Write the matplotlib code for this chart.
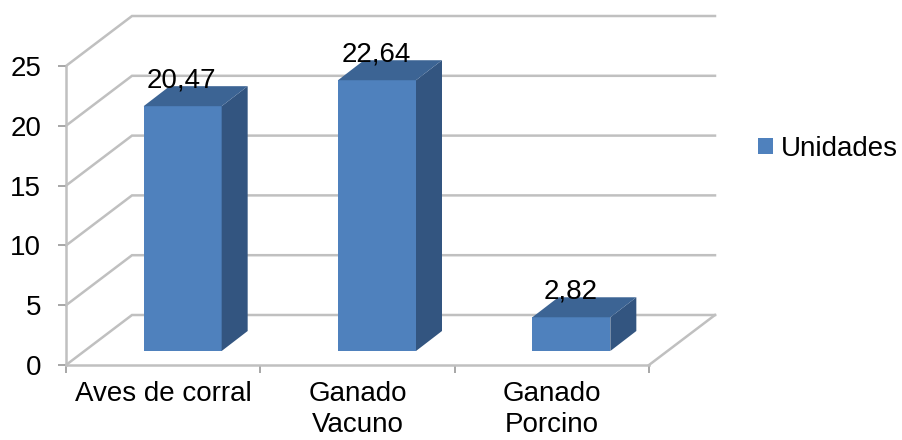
import matplotlib
matplotlib.use("Agg")
import matplotlib.pyplot as plt
from matplotlib.patches import Polygon

categorias = ["Aves de corral", "Ganado\nVacuno", "Ganado\nPorcino"]
valores = [20.47, 22.64, 2.82]
etiquetas = ["20,47", "22,64", "2,82"]
y_ticks = [0, 5, 10, 15, 20, 25]
serie = "Unidades"

GRIS = "#c0c0c0"
FRENTE = "#4f81bd"
LADO = "#335580"
TECHO = "#3c6494"
FS = 20

plt.rcParams["font.family"] = ["Liberation Sans", "DejaVu Sans"]

W, H = 902, 440
fig = plt.figure(figsize=(W / 100, H / 100), dpi=100)
ax = fig.add_axes([66 / W, (H - 365) / H, 583 / W, 299 / H])
ax.set_xlim(0, 3)
ax.set_ylim(0, 25)
ax.patch.set_alpha(0)

# pixeles -> unidades de datos
ux = 3 / 583
uy = 25 / 299
prof_x = 66 * ux
prof_y = 50 * uy

# paredes y suelo
for v in y_ticks:
    ax.plot([0, prof_x, 3 + prof_x], [v, v + prof_y, v + prof_y], color=GRIS, lw=1.8,
            clip_on=False, zorder=1, solid_joinstyle="miter")
ax.plot([3, 3 + prof_x], [0, prof_y], color=GRIS, lw=1.8, clip_on=False, zorder=1)

# barras con falso 3D
base = 14 * uy
ancho = 78 * ux
dx = 26 * ux
dy = 20 * uy
inicio = 19.5 * ux
xs = [i + 0.5 + inicio for i in range(len(valores))]
ax.bar(xs, valores, width=ancho, bottom=base, color=FRENTE, zorder=3, clip_on=False, label=serie)
for x, v, txt in zip(xs, valores, etiquetas):
    x0, x1 = x - ancho / 2, x + ancho / 2
    top = base + v
    ax.add_patch(Polygon([(x1, base), (x1 + dx, base + dy), (x1 + dx, top + dy), (x1, top)],
                         color=LADO, zorder=3, clip_on=False, lw=0))
    ax.add_patch(Polygon([(x0, top), (x0 + dx, top + dy), (x1 + dx, top + dy), (x1, top)],
                         color=TECHO, zorder=3, clip_on=False, lw=0))
    ax.annotate(txt, (x, top), xytext=(-1, 26), textcoords="offset pixels", ha="center",
                va="center", fontsize=FS, color="black", zorder=4, annotation_clip=False)

for s in ["top", "right"]:
    ax.spines[s].set_visible(False)
for s in ["left", "bottom"]:
    ax.spines[s].set_color(GRIS)
    ax.spines[s].set_linewidth(1.8)

ax.set_yticks(y_ticks)
ax.tick_params(axis="y", length=6, width=1.3, color="#a0a0a0", labelsize=FS, pad=12)
ax.set_xticks([0, 1, 2, 3])
ax.set_xticklabels([])
ax.set_xticks([i + 0.5 for i in range(3)], minor=True)
ax.set_xticklabels(categorias, minor=True, fontsize=FS, linespacing=1.26)
ax.tick_params(axis="x", which="major", length=6, width=1.3, color="#a0a0a0")
ax.tick_params(axis="x", which="minor", length=0, pad=11.5)

ax.legend(loc="center left", bbox_to_anchor=(758 / W, (H - 149) / H), bbox_transform=fig.transFigure,
          frameon=False, fontsize=FS, handlelength=0.54, handleheight=0.54, handletextpad=0.27,
          borderpad=0, borderaxespad=0)

plt.savefig("out.png", dpi=100)
plt.close()
